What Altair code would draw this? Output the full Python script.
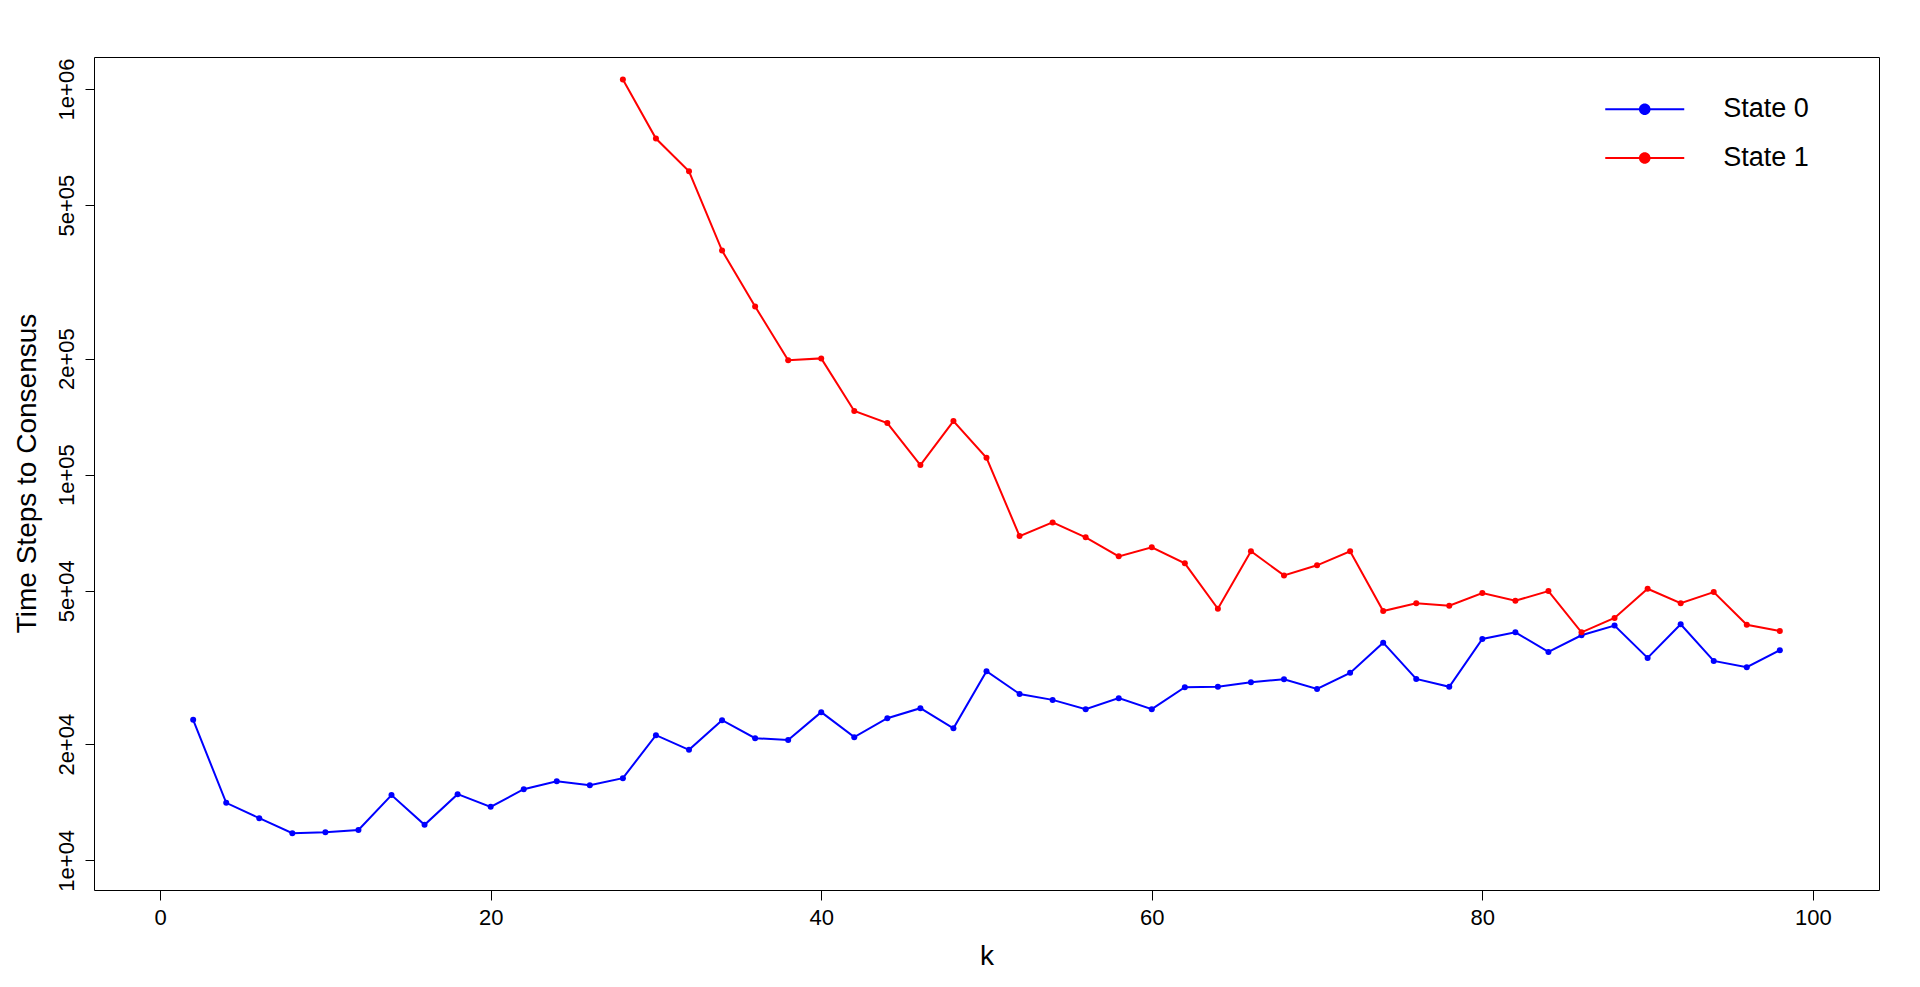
import altair as alt
import pandas as pd

# ---- data ----
k_state0 = list(range(2, 100, 2))
state0 = [23130, 14090, 12860, 11760, 11830, 11980, 14760, 12360, 14840, 13760,
          15290, 16040, 15660, 16330, 21110, 19340, 23090, 20730, 20520, 24220,
          20860, 23360, 24800, 22000, 30930, 27000, 26060, 24650, 26330, 24650,
          28100, 28200, 28960, 29490, 27830, 30620, 36670, 29540, 28170, 37500,
          39000, 34700, 38330, 40600, 33480, 40940, 32890, 31680, 35050]
k_state1 = list(range(28, 100, 2))
state1 = [1058000, 744000, 612000, 381000, 273000, 197900, 200200, 146200, 136100,
          105900, 137700, 110600, 69300, 75200, 68800, 61400, 64800, 58900, 44900,
          63300, 54800, 58200, 63300, 44300, 46400, 45700, 49300, 47100, 49900,
          39000, 42500, 50600, 46400, 49600, 40800, 39300]
series_names = ["State 0", "State 1"]
series_colors = ["#0000FF", "#FF0000"]
x_ticks = [0, 20, 40, 60, 80, 100]
y_ticks = [10000, 20000, 50000, 100000, 200000, 500000, 1000000]
y_tick_labels = ["1e+04", "2e+04", "5e+04", "1e+05", "2e+05", "5e+05", "1e+06"]

df = pd.concat([
    pd.DataFrame({"k": k_state0, "steps": state0, "series": series_names[0]}),
    pd.DataFrame({"k": k_state1, "steps": state1, "series": series_names[1]}),
], ignore_index=True)

label_expr = "".join(
    f"datum.value == {v} ? '{t}' : " for v, t in zip(y_ticks, y_tick_labels)
) + "''"

FONT = "Liberation Sans"

x_enc = alt.X(
    "k:Q",
    scale=alt.Scale(domain=[-4, 104], nice=False, zero=False),
    axis=alt.Axis(values=x_ticks, title="k", format="d", labelFontSize=22,
                  tickSize=10, labelPadding=7, labelBaseline="top",
                  titleFontSize=28, titleBaseline="alphabetic", titleY=74),
)
y_enc = alt.Y(
    "steps:Q",
    scale=alt.Scale(type="log", domain=[8375, 1210600], nice=False),
    axis=alt.Axis(values=y_ticks, labelExpr=label_expr, title="Time Steps to Consensus",
                  labelFontSize=22, labelAngle=270, labelAlign="center",
                  labelBaseline="alphabetic", tickSize=9, labelPadding=11.7,
                  titleFontSize=28, titleAngle=270, titleAlign="center",
                  titleBaseline="alphabetic", titleX=-59, titleY=416),
)
color_scale = alt.Scale(domain=series_names, range=series_colors)

# legend glyph: a line segment with a dot in its middle (unit = half of sqrt(symbolSize))
legend_path = ("M-2,-0.052H2V0.052H-2Z "
               "M-0.294,0A0.294,0.294,0,1,1,0.294,0A0.294,0.294,0,1,1,-0.294,0Z")

legend = alt.Legend(
    title=None, orient="none", legendX=1530.75, legendY=32.2,
    symbolType=legend_path, symbolSize=1560, symbolStrokeWidth=0,
    symbolOpacity=1, symbolOffset=0,
    labelFont=FONT, labelFontSize=27, labelColor="black",
    labelOffset=58.45, rowPadding=15.75, padding=0, offset=0,
)
color_enc = alt.Color("series:N", scale=color_scale, legend=legend)

base = alt.Chart(df).encode(x=x_enc, y=y_enc, color=color_enc)

lines = base.mark_line(strokeWidth=2).encode(detail="series:N")
points = base.mark_point(filled=True, size=36, opacity=1)

chart = alt.layer(lines, points).properties(
    width=1785, height=833,
    autosize=alt.AutoSizeParams(type="none"),
    padding={"left": 86, "top": 49, "right": 30, "bottom": 80},
    background="white",
).configure_view(
    stroke="black", strokeWidth=1
).configure_axis(
    domain=False, grid=False, tickColor="black", tickWidth=1,
    labelColor="black", titleColor="black", labelFont=FONT, titleFont=FONT,
    titleFontWeight="normal",
)

chart.save("out.html", embed_options={"renderer": "svg", "actions": False})
